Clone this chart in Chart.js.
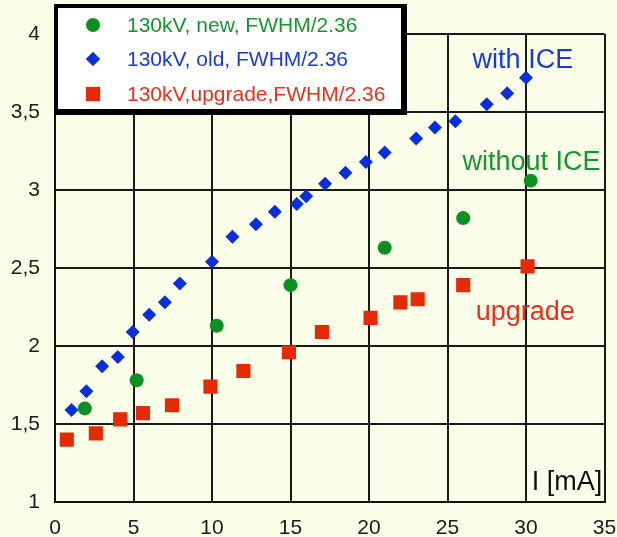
<!DOCTYPE html>
<html>
<head>
<meta charset="utf-8">
<script src="https://cdn.jsdelivr.net/npm/chart.js@4"></script>
<style>
  html, body { margin: 0; padding: 0; background: #FAFEE8; }
  #wrap { width: 617px; height: 537px; position: relative; }
</style>
</head>
<body>
<div id="wrap"><canvas id="chart"></canvas></div>
<script>
// ---- values ----
const seriesNames = ["130kV, new, FWHM/2.36", "130kV, old, FWHM/2.36", "130kV,upgrade,FWHM/2.36"];
const seriesColors = ["#0E8F24", "#0A2EDC", "#E52A08"];
const textColors = ["#16962E", "#1A3AD8", "#E8321A"];

const newX = [1.9, 5.2, 10.3, 15.0, 21.0, 26.0, 30.3];
const newY = [1.60, 1.78, 2.13, 2.39, 2.63, 2.82, 3.06];

const oldX = [1.05, 2.0, 3.0, 4.0, 4.95, 6.0, 7.0, 7.95, 10.0, 11.3, 12.8, 14.0, 15.4, 16.0, 17.2, 18.5, 19.8, 21.0, 23.0, 24.2, 25.5, 27.5, 28.8, 30.0];
const oldY = [1.59, 1.71, 1.87, 1.93, 2.09, 2.20, 2.28, 2.40, 2.54, 2.70, 2.78, 2.86, 2.91, 2.96, 3.04, 3.11, 3.18, 3.24, 3.33, 3.40, 3.44, 3.55, 3.62, 3.72];

const upX = [0.75, 2.6, 4.15, 5.6, 7.45, 9.9, 12.0, 14.9, 17.0, 20.1, 22.0, 23.1, 26.0, 30.1];
const upY = [1.40, 1.44, 1.53, 1.57, 1.62, 1.74, 1.84, 1.96, 2.09, 2.18, 2.28, 2.30, 2.39, 2.51];

const xTicks = [0, 5, 10, 15, 20, 25, 30, 35];
const yTicks = [1, 1.5, 2, 2.5, 3, 3.5, 4];

// text written inside the plot (data coordinates)
const notes = [
  { text: "with ICE", x: 26.6, y: 3.785, color: "#1A3AD8", align: "left" },
  { text: "without ICE", x: 25.95, y: 3.13, color: "#16962E", align: "left" },
  { text: "upgrade", x: 26.8, y: 2.165, color: "#E8321A", align: "left" },
  { text: "I [mA]", x: 34.85, y: 1.077, color: "#111", align: "right" }
];

const FONT = "'Liberation Sans', Arial, sans-serif";

function pts(xs, ys) {
  return xs.map((x, i) => ({ x: x, y: ys[i] }));
}

// --- notes plugin ---
const notesPlugin = {
  id: "notes",
  afterDatasetsDraw(chart) {
    const ctx = chart.ctx;
    const xs = chart.scales.x, ys = chart.scales.y;
    ctx.save();
    ctx.font = "27px " + FONT;
    ctx.textBaseline = "alphabetic";
    notes.forEach(n => {
      ctx.fillStyle = n.color;
      ctx.textAlign = n.align;
      ctx.fillText(n.text, xs.getPixelForValue(n.x), ys.getPixelForValue(n.y));
    });
    ctx.restore();
  }
};

// --- boxed legend in the upper left corner ---
const boxLegend = {
  id: "boxLegend",
  afterDraw(chart) {
    const ctx = chart.ctx;
    const area = chart.chartArea;
    const bx = area.left + 1, by = 6, bw = 347, bh = 105;
    ctx.save();
    ctx.fillStyle = "#000";
    ctx.fillRect(bx - 2, by - 2, bw + 6, bh + 6);
    ctx.fillStyle = "#fff";
    ctx.fillRect(bx + 2, by + 2, bw - 4, bh - 4);
    ctx.font = "21px " + FONT;
    ctx.textAlign = "left";
    ctx.textBaseline = "middle";
    const rows = [25, 59, 94];
    chart.data.datasets.forEach((ds, i) => {
      const cy = rows[i];
      Chart.helpers.drawPoint(ctx, {
        pointStyle: ds.pointStyle, radius: ds.pointRadius, rotation: 0, borderWidth: 0
      }, 93, cy);
      ctx.fillStyle = ds.backgroundColor;
      ctx.fill();
      ctx.fillStyle = textColors[i];
      ctx.fillText(ds.label, 127, cy + 1);
    });
    ctx.restore();
  }
};

const ctx = document.getElementById("chart");
new Chart(ctx, {
  type: "scatter",
  data: {
    datasets: [
      { label: seriesNames[0], data: pts(newX, newY), pointStyle: "circle", pointRadius: 7,
        backgroundColor: seriesColors[0], borderWidth: 0 },
      { label: seriesNames[1], data: pts(oldX, oldY), pointStyle: "rectRot", pointRadius: 7,
        backgroundColor: seriesColors[1], borderWidth: 0 },
      { label: seriesNames[2], data: pts(upX, upY), pointStyle: "rect", pointRadius: 10,
        backgroundColor: seriesColors[2], borderWidth: 0 }
    ]
  },
  options: {
    responsive: true,
    maintainAspectRatio: false,
    animation: false,
    layout: { padding: { left: 0, right: 12.5, top: 34, bottom: 0 } },
    plugins: {
      legend: { display: false },
      tooltip: { enabled: false }
    },
    scales: {
      x: {
        type: "linear",
        min: 0, max: 35,
        afterBuildTicks: s => { s.ticks = xTicks.map(v => ({ value: v })); },
        afterFit: s => { s.height = 35; s.paddingLeft = 0; s.paddingRight = 0; },
        grid: { color: "#1a1a1a", lineWidth: 2, drawTicks: false },
        border: { color: "#111", width: 2 },
        ticks: { color: "#1a1a1a", padding: 14, font: { family: FONT, size: 21 }, maxRotation: 0 }
      },
      y: {
        type: "linear",
        min: 1, max: 4,
        afterBuildTicks: s => { s.ticks = yTicks.map(v => ({ value: v })); },
        afterFit: s => { s.width = 55; },
        grid: { color: "#1a1a1a", lineWidth: 2, drawTicks: false },
        border: { color: "#111", width: 2 },
        ticks: {
          color: "#1a1a1a", padding: 15, font: { family: FONT, size: 21 },
          callback: v => String(v).replace(".", ",")
        }
      }
    }
  },
  plugins: [notesPlugin, boxLegend]
});
</script>
</body>
</html>
